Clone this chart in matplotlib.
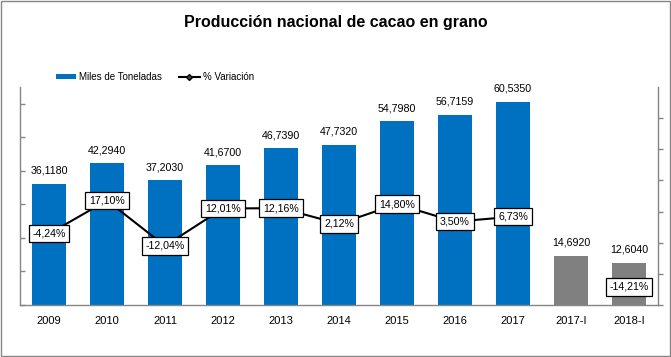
import matplotlib.pyplot as plt
from matplotlib.patches import Rectangle

# Data
categorias = ['2009', '2010', '2011', '2012', '2013', '2014', '2015', '2016', '2017', '2017-I', '2018-I']
miles_toneladas = [36.1180, 42.2940, 37.2030, 41.6700, 46.7390, 47.7320, 54.7980, 56.7159, 60.5350, 14.6920, 12.6040]
variacion = [-4.24, 17.10, -12.04, 12.01, 12.16, 2.12, 14.80, 3.50, 6.73]
variacion_trim = -14.21  # 2018-I vs 2017-I

azul = '#0070C0'
gris = '#808080'
eje = '#868686'

plt.rcParams['font.family'] = ['Liberation Sans', 'DejaVu Sans']

fig = plt.figure(figsize=(6.71, 3.57), dpi=100)
ax = fig.add_axes([20 / 671, 1 - 305 / 357, 638 / 671, 218 / 357])

x = list(range(len(categorias)))
colores = [azul] * 9 + [gris] * 2
barras = ax.bar(x, miles_toneladas, width=0.57, color=colores, zorder=2)
ax.set_xlim(-0.5, len(categorias) - 0.5)
ax.set_ylim(0, 65)
ax.set_yticks(range(0, 61, 10))
ax.set_yticklabels([])
ax.set_xticks(x)
ax.set_xticklabels(categorias, fontsize=8)
ax.tick_params(axis='x', length=0, pad=8)
ax.tick_params(axis='y', direction='in', length=3.6, color=eje, width=1)
for s in ['top', 'right']:
    ax.spines[s].set_visible(False)
for s in ['left', 'bottom']:
    ax.spines[s].set_color(eje)
    ax.spines[s].set_linewidth(1)

for xi, v in zip(x, miles_toneladas):
    ax.annotate(f'{v:.4f}'.replace('.', ','), (xi, v), xytext=(0, 9.4),
                textcoords='offset points', ha='center', va='center', fontsize=7.7)

# % variation on secondary axis
ax2 = ax.twinx()
ax2.set_ylim(-50, 90)
ax2.set_yticks(range(-50, 71, 20))
ax2.set_yticklabels([])
ax2.tick_params(axis='y', direction='out', length=3.6, color=eje, width=1)
for s in ['top', 'left', 'bottom']:
    ax2.spines[s].set_visible(False)
ax2.spines['right'].set_color(eje)
ax2.spines['right'].set_linewidth(1)

linea, = ax2.plot(x[:9], variacion, color='black', lw=1.5, marker='D', ms=3,
                  mfc='#404040', mec='black', zorder=3)
caja = dict(boxstyle='square,pad=0.35', fc='white', ec='black', lw=0.9)
for xi, v in zip(x[:9], variacion):
    ax2.text(xi, v, f'{v:.2f}%'.replace('.', ','), ha='center', va='center',
             fontsize=7.7, bbox=caja, zorder=4)
ax2.annotate(f'{variacion_trim:.2f}%'.replace('.', ','), (x[10], variacion_trim),
             xytext=(0, -27), textcoords='offset points', ha='center', va='center',
             fontsize=7.7, bbox=caja, zorder=4)

fig.text(0.5, 1 - 22 / 357, 'Producción nacional de cacao en grano', ha='center', va='center',
         fontsize=11.5, fontweight='bold', fontstretch='condensed')

fig.legend([barras, linea], ['Miles de Toneladas', '% Variación'], loc='center left',
           bbox_to_anchor=(56 / 671, 1 - 77 / 357), ncol=2, frameon=False,
           borderpad=0, borderaxespad=0, handlelength=2.1, handleheight=0.5,
           handletextpad=0.3, columnspacing=1.75, prop={'size': 7})

fig.patches.append(Rectangle((0.001, 0.002), 0.997, 0.996, transform=fig.transFigure,
                             fill=False, ec=eje, lw=1))

fig.savefig('out.png', dpi=100)
